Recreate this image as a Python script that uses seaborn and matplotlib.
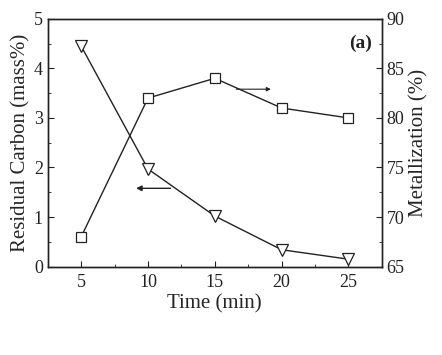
import numpy as np
import pandas as pd
import seaborn as sns
import matplotlib.pyplot as plt
from matplotlib.ticker import MultipleLocator

# Data
time_min = [5, 10, 15, 20, 25]
residual_carbon = [4.45, 1.97, 1.02, 0.34, 0.15]
metallization = [68.0, 82.0, 84.0, 81.0, 80.0]

df = pd.DataFrame({"time": time_min, "carbon": residual_carbon, "metal": metallization})

sns.set_style("ticks")
plt.rcParams["font.family"] = ["Liberation Serif", "DejaVu Serif"]

fig, ax = plt.subplots(figsize=(4.42, 3.55), dpi=100, facecolor="white")
fig.subplots_adjust(left=0.108, right=0.864, top=0.947, bottom=0.249)

sns.lineplot(data=df, x="time", y="carbon", ax=ax, color="#222222", lw=1.0,
             marker="v", markersize=8, markerfacecolor="white",
             markeredgecolor="#222222", markeredgewidth=0.9)
ax2 = ax.twinx()
sns.lineplot(data=df, x="time", y="metal", ax=ax2, color="#222222", lw=1.0,
             marker="s", markersize=6.5, markerfacecolor="white",
             markeredgecolor="#222222", markeredgewidth=0.9)

ax.set_xlim(2.5, 27.5)
ax.set_ylim(0, 5)
ax2.set_ylim(65, 90)
ax.set_xticks([5, 10, 15, 20, 25])
ax.xaxis.set_minor_locator(MultipleLocator(2.5))
ax.yaxis.set_minor_locator(MultipleLocator(0.5))
ax2.set_yticks([65, 70, 75, 80, 85, 90])
ax2.yaxis.set_minor_locator(MultipleLocator(2.5))

for a in (ax, ax2):
    for s in a.spines.values():
        s.set_visible(True)
        s.set_linewidth(1.0)
        s.set_color("#222222")
    a.tick_params(which="both", direction="in", labelsize=13, colors="#222222")
    a.tick_params(which="major", length=4)
    a.tick_params(which="minor", length=2.5)
ax.tick_params(axis="x", pad=5)
ax.tick_params(top=False, which="both")

ax.set_xlabel("Time (min)", fontsize=15, labelpad=3)
ax.set_ylabel("Residual Carbon (mass%)", fontsize=15, labelpad=2)
ax2.set_ylabel("Metallization (%)", fontsize=15, labelpad=3)

# Arrows pointing to each series' axis
ax.annotate("", xy=(8.9, 1.58), xytext=(11.9, 1.58),
            arrowprops=dict(arrowstyle="-|>", color="#222222", lw=1.0, mutation_scale=8))
ax2.annotate("", xy=(19.4, 82.9), xytext=(16.4, 82.9),
             arrowprops=dict(arrowstyle="-|>", color="#222222", lw=0.8, mutation_scale=6))

ax.text(0.97, 0.9, "(a)", transform=ax.transAxes, ha="right", va="center",
        fontsize=14, fontweight="bold", color="#222222")

fig.savefig("out.png", dpi=100, facecolor="white")
